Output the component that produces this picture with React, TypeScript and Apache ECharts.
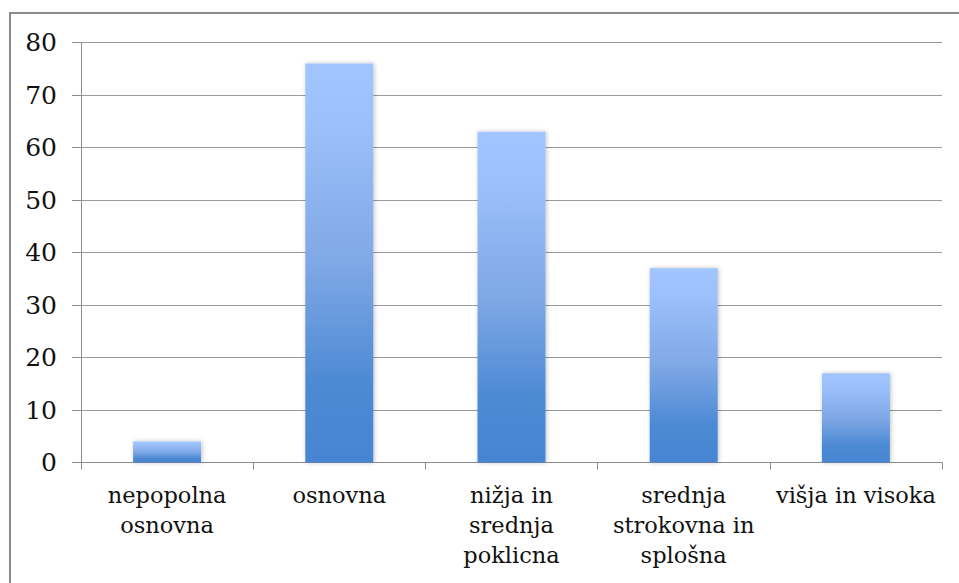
import React, { useEffect, useRef } from "react";
import * as echarts from "echarts";

const categories = [
  "nepopolna\nosnovna",
  "osnovna",
  "nižja in\nsrednja\npoklicna",
  "srednja\nstrokovna in\nsplošna",
  "višja in visoka",
];
const values = [4, 76, 63, 37, 17];
const yMin = 0;
const yMax = 80;
const yInterval = 10;

export default function App() {
  const ref = useRef<HTMLDivElement>(null);
  useEffect(() => {
    if (!ref.current) return;
    const chart = echarts.init(ref.current, null, { renderer: "svg" });
    const font = "DejaVu Serif";
    const axisColor = "#8c8c8c";
    chart.setOption({
      animation: false,
      backgroundColor: "#ffffff",
      graphic: [
        {
          type: "rect",
          shape: { x: 10, y: 13, width: 980, height: 620 },
          style: { fill: "none", stroke: "#8a8a8a", lineWidth: 2 },
          silent: true,
        },
      ],
      grid: { left: 81, right: 17, top: 42.5, bottom: 120.5, containLabel: false },
      xAxis: {
        type: "category",
        data: categories,
        axisLine: { show: true, lineStyle: { color: axisColor, width: 1 } },
        axisTick: { show: true, length: 7, lineStyle: { color: axisColor } },
        axisLabel: {
          interval: 0,
          fontFamily: font,
          fontSize: 22.5,
          lineHeight: 30,
          color: "#111111",
          margin: 17,
          align: "center",
        },
        splitLine: { show: false },
      },
      yAxis: {
        type: "value",
        min: yMin,
        max: yMax,
        interval: yInterval,
        axisLine: { show: true, lineStyle: { color: axisColor, width: 1 } },
        axisTick: { show: true, length: 9, lineStyle: { color: axisColor } },
        axisLabel: {
          fontFamily: font,
          fontSize: 25,
          color: "#111111",
          margin: 24,
        },
        splitLine: { show: true, lineStyle: { color: "#9a9a9a", width: 1 } },
      },
      series: [
        {
          type: "bar",
          data: values,
          barWidth: 68,
          itemStyle: {
            color: new echarts.graphic.LinearGradient(0, 0, 0, 1, [
              { offset: 0, color: "#A2C5FF" },
              { offset: 0.15, color: "#9CC0FB" },
              { offset: 0.5, color: "#7FA8E6" },
              { offset: 0.8, color: "#4D8AD4" },
              { offset: 1, color: "#4685D2" },
            ]),
            shadowBlur: 4,
            shadowColor: "rgba(0,0,0,0.25)",
            shadowOffsetX: 1,
            shadowOffsetY: 0,
          },
        },
      ],
    });
    return () => chart.dispose();
  }, []);
  return (
    <div
      ref={ref}
      style={{ position: "fixed", left: 0, top: 0, width: 959, height: 583 }}
    />
  );
}
